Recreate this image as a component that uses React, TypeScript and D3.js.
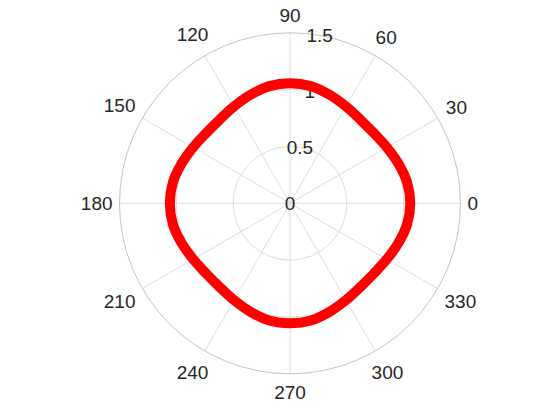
import React from "react";
import * as d3 from "d3";

// Polar data (theta in degrees, rho)
const thetaDeg: number[] = [
  0, 10, 20, 30, 40, 50, 60, 70, 80,
  90, 100, 110, 120, 130, 140, 150, 160, 170,
  180, 190, 200, 210, 220, 230, 240, 250, 260,
  270, 280, 290, 300, 310, 320, 330, 340, 350,
];
const rho: number[] = [
  1.058, 1.047, 1.016, 0.984, 0.962, 0.962, 0.984, 1.016, 1.047,
  1.057, 1.047, 1.016, 0.984, 0.962, 0.962, 0.984, 1.016, 1.047,
  1.057, 1.047, 1.016, 0.984, 0.962, 0.962, 0.984, 1.016, 1.047,
  1.055, 1.047, 1.016, 0.984, 0.962, 0.962, 0.984, 1.016, 1.047,
];
const thetaTicks: number[] = [0, 30, 60, 90, 120, 150, 180, 210, 240, 270, 300, 330];
const rTicks: number[] = [0, 0.5, 1, 1.5];
const rTickLabels: string[] = ["0", "0.5", "1", "1.5"];

const W = 560;
const H = 420;
const cx = 290;
const cy = 203.3;
const R = 170.5;
const FONT = 19;

export default function App() {
  const r = d3.scaleLinear().domain([0, 1.5]).range([0, R]);
  const toRad = (deg: number) => (deg * Math.PI) / 180;
  const pts = thetaDeg.map((t, i) => ({ t, v: rho[i] }));
  const line = d3
    .lineRadial<{ t: number; v: number }>()
    .angle((d) => Math.PI / 2 - toRad(d.t))
    .radius((d) => r(d.v))
    .curve(d3.curveCatmullRomClosed.alpha(0.5));

  const rLabelAngle = toRad(80);
  const charW = FONT * 0.556;

  return (
    <div style={{ position: "fixed", left: 0, top: 0 }}>
      <svg width={W} height={H} style={{ display: "block", background: "#fff" }}
        fontFamily="'Liberation Sans', Arial, sans-serif">
        <g transform={`translate(${cx},${cy})`}>
          {/* spokes */}
          {thetaTicks.map((t) => (
            <line key={`s${t}`} x1={0} y1={0}
              x2={r(1.5) * Math.cos(toRad(t))} y2={-r(1.5) * Math.sin(toRad(t))}
              stroke="#dedede" strokeWidth={1} />
          ))}
          {/* rings */}
          {rTicks.filter((v) => v > 0 && v < 1.5).map((v) => (
            <circle key={`c${v}`} r={r(v)} fill="none" stroke="#dedede" strokeWidth={1} />
          ))}
          <circle r={r(1.5)} fill="none" stroke="#c4c4c4" strokeWidth={1} />
          {/* r tick labels */}
          {rTicks.map((v, i) => (
            <text key={`rl${v}`} x={r(v) * Math.cos(rLabelAngle)} y={-r(v) * Math.sin(rLabelAngle)}
              dy="0.36em" textAnchor="middle" fontSize={FONT} fill="#262626">
              {rTickLabels[i]}
            </text>
          ))}
          {/* theta tick labels */}
          {thetaTicks.map((t) => {
            const label = String(t);
            const hw = (label.length * charW) / 2;
            const a = toRad(t);
            const ext = hw * Math.abs(Math.cos(a)) + 11 * Math.abs(Math.sin(a));
            const d = R + 7 + ext;
            return (
              <text key={`tl${t}`} x={d * Math.cos(a)} y={-d * Math.sin(a)} dy="0.36em"
                textAnchor="middle" fontSize={FONT} fill="#262626">
                {label}
              </text>
            );
          })}
          {/* data curve */}
          <path d={line(pts) || ""} fill="none" stroke="#ff0000" strokeWidth={10}
            strokeLinejoin="round" />
        </g>
      </svg>
    </div>
  );
}
